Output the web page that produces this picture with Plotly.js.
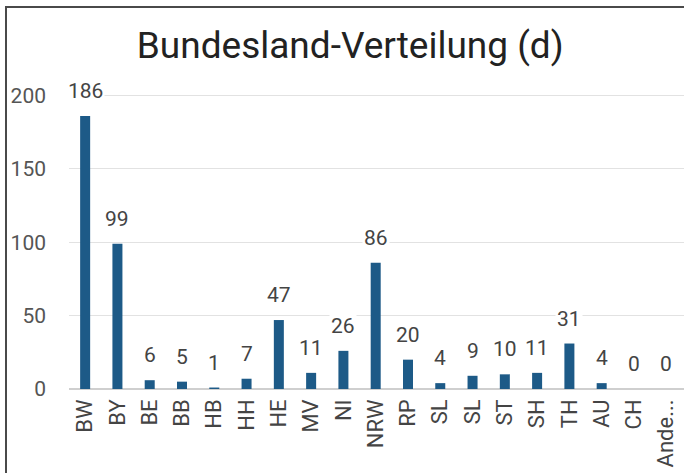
<!DOCTYPE html>
<html>
<head>
<meta charset="utf-8">
<script src="https://cdn.plot.ly/plotly-3.0.1.min.js"></script>
<style>
  html, body { margin: 0; padding: 0; background: #fff; }
  #wrap { position: relative; width: 684px; height: 473px; overflow: hidden; }
  #chart { width: 684px; height: 473px; }
  #frame { position: absolute; left: 5px; top: 6px; width: 700px; height: 500px;
           border-left: 2px solid #4a4a4a; border-top: 2px solid #4a4a4a; pointer-events: none; }
</style>
</head>
<body>
<div id="wrap">
  <div id="chart"></div>
  <div id="frame"></div>
</div>
<script>
const categories = ["BW","BY","BE","BB","HB","HH","HE","MV","NI","NRW","RP","SL","SL","ST","SH","TH","AU","CH","Ande..."];
const values = [186, 99, 6, 5, 1, 7, 47, 11, 26, 86, 20, 4, 9, 10, 11, 31, 4, 0, 0];
const yTicks = [0, 50, 100, 150, 200];
const titleText = "Bundesland-Verteilung (d)";

const positions = categories.map((c, i) => i);
const FONT = "Roboto, 'Open Sans', sans-serif";

const trace = {
  type: "bar",
  x: positions,
  y: values,
  width: 0.31,
  marker: { color: "#1d5a87" },
  hoverinfo: "skip"
};

const annotations = values.map((v, i) => ({
  x: positions[i],
  y: v,
  xref: "x",
  yref: "y",
  text: String(v),
  showarrow: false,
  yanchor: "bottom",
  yshift: 11,
  bgcolor: "#ffffff",
  borderpad: 1,
  font: { family: FONT, size: 21, color: "#444" }
}));

const layout = {
  width: 684,
  height: 473,
  margin: { l: 69, r: 0, t: 80, b: 84 },
  paper_bgcolor: "#ffffff",
  plot_bgcolor: "#ffffff",
  showlegend: false,
  title: {
    text: titleText,
    x: 0.512,
    xref: "container",
    xanchor: "center",
    y: 0.905,
    yref: "container",
    yanchor: "middle",
    font: { family: FONT, size: 37, color: "#222", weight: 400 }
  },
  xaxis: {
    range: [-0.5, 18.55],
    tickvals: positions,
    ticktext: categories,
    tickangle: -90,
    showgrid: false,
    zeroline: false,
    showline: false,
    ticks: "",
    ticklabelstandoff: 5,
    tickfont: { family: FONT, size: 22, color: "#444" },
    fixedrange: true
  },
  yaxis: {
    range: [0, 210.6],
    tickvals: yTicks,
    showgrid: true,
    gridcolor: "#e2e2e2",
    gridwidth: 1,
    zeroline: true,
    zerolinecolor: "#cfcfcf",
    zerolinewidth: 2,
    showline: false,
    ticks: "",
    ticklabelstandoff: 22,
    tickfont: { family: FONT, size: 21, color: "#555" },
    fixedrange: true
  },
  annotations: annotations
};

Plotly.newPlot("chart", [trace], layout, { staticPlot: true, displayModeBar: false });
</script>
</body>
</html>
